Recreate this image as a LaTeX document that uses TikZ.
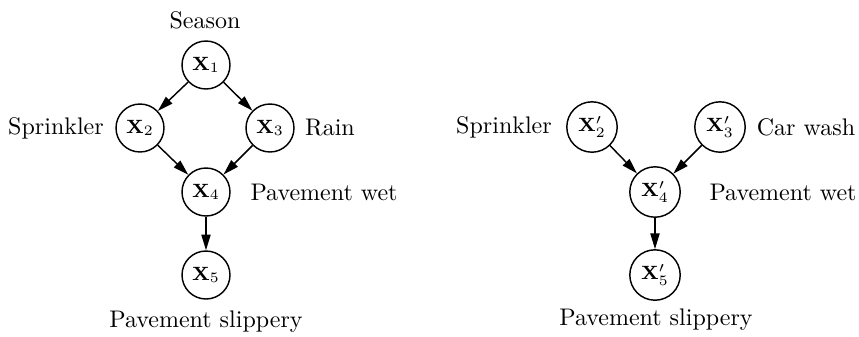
\documentclass[tikz,border=0pt]{standalone}
\usetikzlibrary{arrows.meta}
\begin{document}
\begin{tikzpicture}[x=0.4167pt,y=-0.4167pt,
  var/.style={circle,draw,line width=0.6pt,minimum size=20pt,inner sep=0pt,font=\footnotesize},
  varp/.style={var,minimum size=21pt},
  lbl/.style={inner sep=0pt},
  edge/.style={line width=0.6pt,-{Triangle[length=6.5pt,width=3.8pt]}}]
\useasboundingbox (0,0) rectangle (859,336);
% left graph
\node[var] (a1) at (206,65) {$\mathbf{X}_1$};
\node[var] (a2) at (140,128) {$\mathbf{X}_2$};
\node[var] (a3) at (270,128) {$\mathbf{X}_3$};
\node[var] (a4) at (206,192) {$\mathbf{X}_4$};
\node[var] (a5) at (206,275) {$\mathbf{X}_5$};
\node[lbl] (la1) at (205,20) {Season};
\node[lbl] (la2) at (56,128) {Sprinkler};
\node[lbl] (la3) at (330,128) {Rain};
\node[lbl] (la4) at (324,192) {Pavement wet};
\node[lbl] (la5) at (206,322) {Pavement slippery};
\draw[edge] (a1) -- (a2);
\draw[edge] (a1) -- (a3);
\draw[edge] (a2) -- (a4);
\draw[edge] (a3) -- (a4);
\draw[edge] (a4) -- (a5);
% right graph
\node[varp] (b2) at (592,127) {$\mathbf{X}'_2$};
\node[varp] (b3) at (720,127) {$\mathbf{X}'_3$};
\node[varp] (b4) at (655,192) {$\mathbf{X}'_4$};
\node[varp] (b5) at (655,275) {$\mathbf{X}'_5$};
\node[lbl] (lb2) at (504,127) {Sprinkler};
\node[lbl] (lb3) at (806,127) {Car wash};
\node[lbl] (lb4) at (783,192) {Pavement wet};
\node[lbl] (lb5) at (656,320) {Pavement slippery};
\draw[edge] (b2) -- (b4);
\draw[edge] (b3) -- (b4);
\draw[edge] (b4) -- (b5);
\end{tikzpicture}
\end{document}
